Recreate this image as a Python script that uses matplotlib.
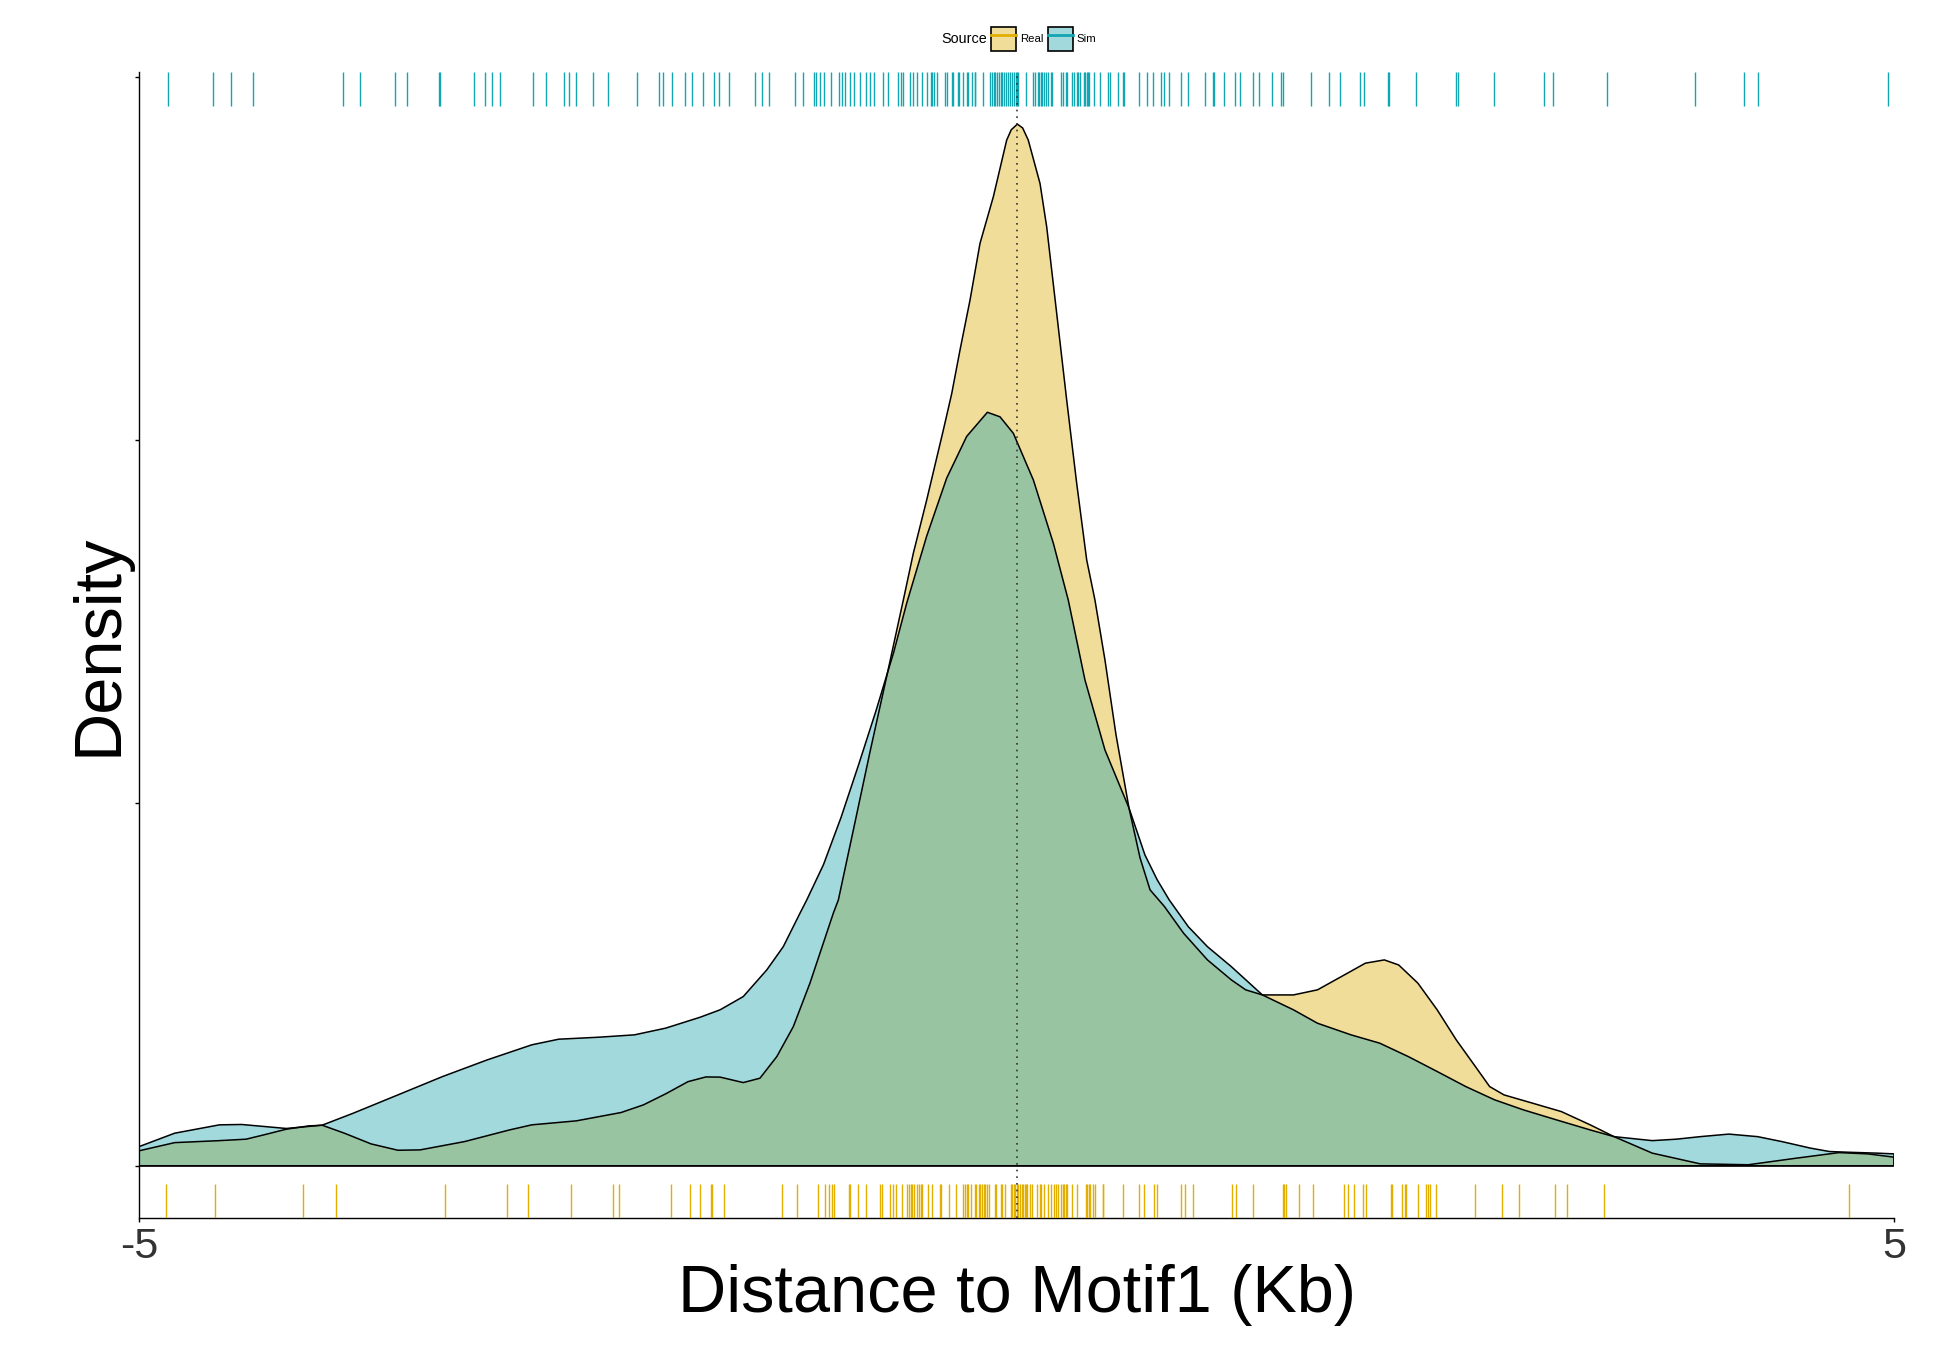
import matplotlib
matplotlib.use("Agg")
import matplotlib.pyplot as plt
from matplotlib.colors import to_rgba
from matplotlib.patches import Patch
from matplotlib.lines import Line2D
from matplotlib.legend_handler import HandlerTuple

plt.rcParams['font.family'] = ['Liberation Sans', 'DejaVu Sans']

# density curves (x in Kb, density)
real_x = [-5.0, -4.797, -4.542, -4.390, -4.288, -4.161, -4.034, -3.957, -3.830, -3.678,
          -3.525, -3.398, -3.144, -2.889, -2.762, -2.508, -2.253, -2.126, -1.999, -1.872,
          -1.770, -1.689, -1.557, -1.462, -1.366, -1.272, -1.177, -1.101, -1.044, -1.015,
          -0.920, -0.835, -0.738, -0.645, -0.588, -0.512, -0.417, -0.369, -0.322, -0.265,
          -0.208, -0.132, -0.056, -0.030, 0.005, 0.035, 0.067, 0.134, 0.172, 0.229,
          0.286, 0.343, 0.400, 0.447, 0.504, 0.567, 0.641, 0.704, 0.761, 0.843,
          0.952, 1.088, 1.224, 1.306, 1.401, 1.578, 1.715, 1.851, 1.988, 2.096,
          2.178, 2.287, 2.397, 2.506, 2.615, 2.696, 2.778, 2.942, 3.105, 3.269,
          3.405, 3.623, 3.896, 4.169, 4.441, 4.687, 4.850, 5.0]
real_y = [0.0083, 0.0128, 0.0139, 0.0147, 0.0171, 0.0202, 0.0220, 0.0224, 0.0180, 0.0121,
          0.0086, 0.0088, 0.0134, 0.0198, 0.0226, 0.0248, 0.0294, 0.0336, 0.0397, 0.0464,
          0.0490, 0.0489, 0.0459, 0.0483, 0.0602, 0.0767, 0.1007, 0.1227, 0.1392, 0.1466,
          0.1895, 0.2281, 0.2705, 0.3118, 0.3376, 0.3669, 0.4055, 0.4257, 0.4496, 0.4771,
          0.5084, 0.5341, 0.5653, 0.5710, 0.5741, 0.5720, 0.5653, 0.5414, 0.5175, 0.4698,
          0.4220, 0.3761, 0.3339, 0.3118, 0.2788, 0.2375, 0.1972, 0.1697, 0.1521, 0.1429,
          0.1282, 0.1135, 0.1025, 0.0970, 0.0942, 0.0942, 0.0970, 0.1043, 0.1117, 0.1135,
          0.1107, 0.1007, 0.0860, 0.0694, 0.0547, 0.0437, 0.0391, 0.0345, 0.0299, 0.0226,
          0.0161, 0.0070, 0.0011, 0.0006, 0.0042, 0.0073, 0.0066, 0.0048]

sim_x = [-5.0, -4.797, -4.542, -4.415, -4.288, -4.161, -3.957, -3.780, -3.525, -3.271,
         -3.016, -2.762, -2.609, -2.380, -2.177, -1.999, -1.803, -1.689, -1.557, -1.423,
         -1.329, -1.234, -1.195, -1.100, -1.000, -0.900, -0.800, -0.700, -0.626, -0.512,
         -0.398, -0.284, -0.166, -0.094, -0.018, 0.096, 0.210, 0.295, 0.390, 0.504,
         0.641, 0.732, 0.802, 0.870, 0.979, 1.088, 1.224, 1.401, 1.578, 1.715,
         1.906, 2.070, 2.233, 2.397, 2.560, 2.724, 2.887, 3.078, 3.269, 3.405,
         3.623, 3.760, 3.896, 4.059, 4.223, 4.360, 4.523, 4.632, 4.741, 4.905, 5.0]
sim_y = [0.0106, 0.0180, 0.0226, 0.0228, 0.0217, 0.0206, 0.0224, 0.0290, 0.0391, 0.0492,
         0.0584, 0.0667, 0.0698, 0.0709, 0.0722, 0.0759, 0.0819, 0.0860, 0.0933, 0.1080,
         0.1208, 0.1392, 0.1466, 0.1660, 0.1920, 0.2210, 0.2510, 0.2830, 0.3100, 0.3470,
         0.3790, 0.4020, 0.4153, 0.4128, 0.4037, 0.3780, 0.3431, 0.3118, 0.2678, 0.2292,
         0.1972, 0.1713, 0.1576, 0.1466, 0.1318, 0.1208, 0.1098, 0.0942, 0.0860, 0.0786,
         0.0722, 0.0676, 0.0602, 0.0520, 0.0437, 0.0364, 0.0309, 0.0253, 0.0198, 0.0161,
         0.0139, 0.0147, 0.0161, 0.0175, 0.0161, 0.0134, 0.0098, 0.0079, 0.0075, 0.0070, 0.0066]

# rug positions (Kb)
sim_rug = [-4.835, -4.576, -4.476, -4.352, -3.839, -3.741, -3.540, -3.475, -3.289, -3.283,
           -3.093, -3.028, -2.989, -2.945, -2.753, -2.681, -2.576, -2.550, -2.509, -2.413,
           -2.330, -2.164, -2.038, -2.016, -1.964, -1.889, -1.850, -1.787, -1.724, -1.697,
           -1.636, -1.492, -1.448, -1.411, -1.263, -1.215, -1.154, -1.145, -1.121, -1.099,
           -1.058, -1.014, -0.997, -0.975, -0.951, -0.927, -0.892, -0.857, -0.835, -0.811,
           -0.761, -0.735, -0.678, -0.656, -0.648, -0.609, -0.589, -0.565, -0.538, -0.511,
           -0.488, -0.480, -0.469, -0.454, -0.408, -0.397, -0.369, -0.364, -0.334, -0.325,
           -0.303, -0.284, -0.277, -0.251, -0.238, -0.234, -0.190, -0.150, -0.142, -0.131,
           -0.122, -0.109, -0.098, -0.089, -0.081, -0.069, -0.059, -0.048, -0.037, -0.026,
           -0.015, -0.002, 0.002, 0.011, 0.055, 0.094, 0.103, 0.120, 0.129, 0.137,
           0.148, 0.159, 0.168, 0.177, 0.198, 0.203, 0.255, 0.264, 0.283, 0.290,
           0.319, 0.325, 0.345, 0.351, 0.362, 0.382, 0.390, 0.399, 0.406, 0.414,
           0.443, 0.475, 0.521, 0.530, 0.580, 0.609, 0.613, 0.700, 0.741, 0.776,
           0.822, 0.839, 0.868, 0.940, 0.979, 1.075, 1.121, 1.125, 1.182, 1.245,
           1.276, 1.350, 1.380, 1.456, 1.507, 1.517, 1.678, 1.781, 1.843, 1.955,
           1.979, 2.118, 2.125, 2.276, 2.506, 2.513, 2.720, 3.004, 3.055, 3.364,
           3.864, 4.144, 4.225, 4.967]
real_rug = [-4.848, -4.567, -4.066, -3.878, -3.256, -2.901, -2.784, -2.539, -2.297, -2.264,
            -1.970, -1.863, -1.802, -1.743, -1.737, -1.669, -1.339, -1.250, -1.132, -1.092,
            -1.066, -1.053, -1.042, -0.953, -0.949, -0.905, -0.859, -0.778, -0.765, -0.720,
            -0.702, -0.685, -0.650, -0.626, -0.615, -0.604, -0.593, -0.582, -0.565, -0.556,
            -0.547, -0.538, -0.506, -0.482, -0.434, -0.430, -0.384, -0.342, -0.303, -0.295,
            -0.284, -0.277, -0.260, -0.238, -0.229, -0.216, -0.207, -0.194, -0.185, -0.177,
            -0.168, -0.159, -0.124, -0.118, -0.089, -0.081, -0.063, -0.032, -0.024, -0.015,
            -0.007, 0.002, 0.011, 0.019, 0.029, 0.037, 0.046, 0.055, 0.061, 0.076,
            0.087, 0.116, 0.133, 0.142, 0.155, 0.181, 0.196, 0.214, 0.225, 0.235,
            0.255, 0.264, 0.272, 0.282, 0.290, 0.316, 0.347, 0.395, 0.404, 0.412,
            0.421, 0.434, 0.447, 0.491, 0.495, 0.609, 0.700, 0.726, 0.781, 0.802,
            0.940, 0.962, 1.003, 1.228, 1.250, 1.348, 1.518, 1.527, 1.537, 1.609,
            1.688, 1.864, 1.890, 1.925, 1.974, 1.990, 2.132, 2.138, 2.194, 2.215,
            2.220, 2.290, 2.332, 2.344, 2.357, 2.388, 2.611, 2.764, 2.862, 3.067,
            3.139, 3.348, 4.744]

real_fill = '#DEAA03'
sim_fill = '#16A0AC'
real_rug_col = '#E2AE00'
sim_rug_col = '#12A6B3'

fig = plt.figure(figsize=(19.34, 13.70), dpi=100)
ax = fig.add_axes([0.0719, 0.111, 0.9074, 0.8364])

# densities, closed down to zero like geom_density
ax.fill([-5.0] + real_x + [5.0], [0] + real_y + [0], facecolor=real_fill, alpha=0.4,
        edgecolor='none', zorder=2)
ax.fill([-5.0] + sim_x + [5.0], [0] + sim_y + [0], facecolor=sim_fill, alpha=0.4,
        edgecolor='none', zorder=3)
ax.fill([-5.0] + real_x + [5.0], [0] + real_y + [0], facecolor='none',
        edgecolor='black', linewidth=1.1, joinstyle='round', zorder=4)
ax.fill([-5.0] + sim_x + [5.0], [0] + sim_y + [0], facecolor='none',
        edgecolor='black', linewidth=1.1, joinstyle='round', zorder=4)

# rugs
tr = ax.get_xaxis_transform()
ax.vlines(real_rug, 0, 0.03, transform=tr, color=real_rug_col, linewidth=1.0, zorder=5)
ax.vlines(sim_rug, 0.97, 1.0, transform=tr, color=sim_rug_col, linewidth=1.0, zorder=5)

ax.axvline(0, color='#333333', linestyle=(0, (1, 3)), linewidth=1.2, zorder=6)

ax.set_xlim(-5, 5)
ax.set_ylim(-0.0287, 0.6028)
ax.spines['top'].set_visible(False)
ax.spines['right'].set_visible(False)
ax.spines['left'].set_linewidth(1.0)
ax.spines['bottom'].set_linewidth(1.0)

ax.set_xticks([-5, 5], labels=['-5', '5'])
ax.set_yticks([0, 0.2, 0.4, 0.6], labels=[])
ax.tick_params(axis='x', length=3, width=1, pad=3.5, labelsize=31, labelcolor='#333333')
ax.tick_params(axis='y', length=3, width=1)

ax.set_xlabel('Distance to Motif1 (Kb)', fontsize=48)
ax.xaxis.set_label_coords(0.5, -0.040)
ax.set_ylabel('Density', fontsize=48)
ax.yaxis.set_label_coords(-0.005, 0.5)

# legend across the top, title on the left
handles = [(Patch(facecolor=to_rgba(real_fill, 0.4), edgecolor='black', linewidth=1.2),
            Line2D([], [], color=real_rug_col, linewidth=2.0)),
           (Patch(facecolor=to_rgba(sim_fill, 0.4), edgecolor='black', linewidth=1.2),
            Line2D([], [], color=sim_rug_col, linewidth=2.0))]
fig.legend(handles, ['Real', 'Sim'], handler_map={tuple: HandlerTuple(ndivide=1, pad=0)},
           loc='center left', bbox_to_anchor=(990.7 / 1934, 1 - 39 / 1370),
           bbox_transform=fig.transFigure, ncol=2, frameon=False, fontsize=8.2,
           handlelength=2.2, handleheight=2.78, handletextpad=0.35, columnspacing=0.4,
           borderpad=0, borderaxespad=0)
fig.text(941.7 / 1934, 1 - 39 / 1370, 'Source', ha='left', va='center', fontsize=10.4)

plt.savefig('out.png', dpi=100)
